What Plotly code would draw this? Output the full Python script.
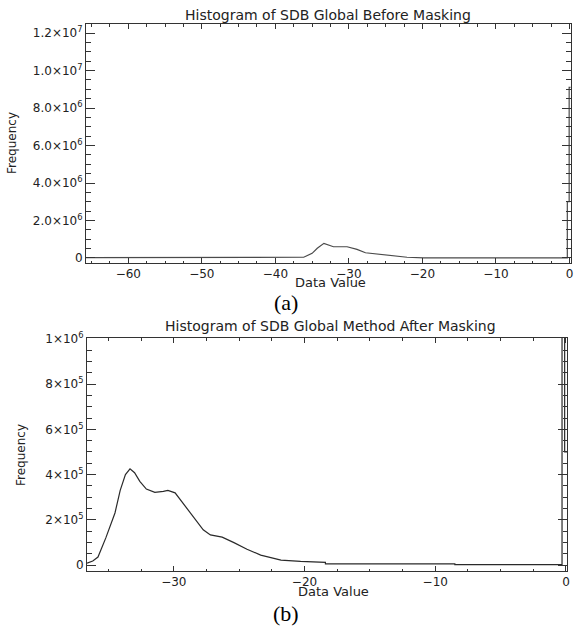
import plotly.graph_objects as go

# ---------------- data ----------------
# (a) Histogram of SDB Global Before Masking
before_x = [-65.75, -37.3, -36.15, -35.0, -34.3, -33.4, -32.75, -32.1, -30.25, -28.9,
            -27.75, -26.2, -24.35, -22.1, -19.8, -4.2, -4.2, -0.3, -0.3, -0.05, -0.05, 0.16]
before_y = [1.5e4, 1.5e4, 4e4, 2.5e5, 5.2e5, 7.8e5, 6.9e5, 6.0e5, 6.0e5, 4.6e5,
            2.8e5, 2.1e5, 1.1e5, 4e4, 1e4, 1e4, 2e3, 2e3, 3.0e6, 3.0e6, 9.1e6, 9.1e6]

# (b) Histogram of SDB Global Method After Masking
after_x = [-36.64, -36.2, -35.8, -35.2, -34.5, -34.1, -33.7, -33.35, -33.0, -32.6,
           -32.1, -31.45, -30.8, -30.45, -29.9, -29.3, -28.5, -27.75, -27.2, -26.3,
           -25.4, -24.4, -23.35, -22.35, -21.8, -20.3, -18.4, -18.4, -8.5, -8.5,
           -0.3, -0.3, -0.1, -0.1, 0.08]
after_y = [8e3, 1.8e4, 3.5e4, 1.2e5, 2.3e5, 3.3e5, 4.0e5, 4.25e5, 4.08e5, 3.7e5,
           3.36e5, 3.21e5, 3.26e5, 3.3e5, 3.19e5, 2.74e5, 2.15e5, 1.56e5, 1.33e5, 1.23e5,
           9.9e4, 7.0e4, 4.4e4, 2.8e4, 2.2e4, 1.6e4, 1.2e4, 5e3, 5e3, 1.5e3,
           1.5e3, 1.3e6, 1.3e6, 5.0e5, 5.0e5]

x_ticks_a = [-60, -50, -40, -30, -20, -10, 0]
x_text_a = ["\u221260", "\u221250", "\u221240", "\u221230", "\u221220", "\u221210", "0"]
y_ticks_a = [0, 2e6, 4e6, 6e6, 8e6, 1e7, 1.2e7]
y_text_a = ["0", "2.0\u00d710<sup>6</sup>", "4.0\u00d710<sup>6</sup>", "6.0\u00d710<sup>6</sup>",
            "8.0\u00d710<sup>6</sup>", "1.0\u00d710<sup>7</sup>", "1.2\u00d710<sup>7</sup>"]

x_ticks_b = [-30, -20, -10, 0]
x_text_b = ["\u221230", "\u221220", "\u221210", "0"]
y_ticks_b = [0, 2e5, 4e5, 6e5, 8e5, 1e6]
y_text_b = ["0", "2\u00d710<sup>5</sup>", "4\u00d710<sup>5</sup>", "6\u00d710<sup>5</sup>",
            "8\u00d710<sup>5</sup>", "1\u00d710<sup>6</sup>"]

title_a = "Histogram of SDB Global Before Masking"
title_b = "Histogram of SDB Global Method After Masking"
x_title = "Data Value"
y_title = "Frequency"

# ---------------- figure ----------------
W, H = 575, 628
def px(x):
    return x / W
def py(y):
    return 1 - y / H

AX = "#333333"
FONT = "DejaVu Sans"

fig = go.Figure()
fig.add_trace(go.Scatter(x=before_x, y=before_y, mode="lines",
                         line=dict(color="#4a4a4a", width=1.2), xaxis="x", yaxis="y",
                         showlegend=False, hoverinfo="skip"))
fig.add_trace(go.Scatter(x=after_x, y=after_y, mode="lines",
                         line=dict(color="#2a2a2a", width=1.2), xaxis="x2", yaxis="y2",
                         showlegend=False, hoverinfo="skip"))

def common(ticklen, mtick0, mdt):
    return dict(tickmode="array", ticks="inside", ticklen=ticklen,
                tickwidth=1, tickcolor=AX, showline=True, linecolor=AX, linewidth=1,
                mirror="ticks", showgrid=False, zeroline=False, automargin=False,
                ticklabeloverflow="allow",
                tickfont=dict(family=FONT, size=12, color="#222"),
                minor=dict(tickmode="linear", tick0=mtick0, dtick=mdt, ticks="inside",
                           ticklen=ticklen / 2, tickcolor=AX, tickwidth=1, showgrid=False))

def xaxis(domain, rng, vals, text, anchor, ticklen):
    d = common(ticklen, 0, 2.5)
    d.update(domain=domain, range=rng, anchor=anchor, tickvals=vals, ticktext=text)
    return d

def yaxis(domain, rng, vals, text, anchor, ticklen, mdt):
    d = common(ticklen, 0, mdt)
    d.update(domain=domain, range=rng, anchor=anchor, tickvals=vals, ticktext=text)
    return d

fig.update_layout(
    width=W, height=H, margin=dict(l=0, r=0, t=0, b=0, autoexpand=False),
    paper_bgcolor="white", plot_bgcolor="white",
    xaxis=xaxis([px(86), px(570.7)], [-65.75, 0.16], x_ticks_a, x_text_a, "y", 5),
    yaxis=yaxis([py(263), py(24)], [-2.67e5, 1.248e7], y_ticks_a, y_text_a, "x", 9, 5e5),
    xaxis2=xaxis([px(87), px(567)], [-36.64, 0.08], x_ticks_b, x_text_b, "y2", 5),
    yaxis2=yaxis([py(571), py(338)], [-2.65e4, 1.004e6], y_ticks_b, y_text_b, "x2", 9, 5e4),
)

def ann(text, x, y, size=12, family=FONT, angle=0, color="#222"):
    fig.add_annotation(text=text, x=px(x), y=py(y), xref="paper", yref="paper",
                       xanchor="center", yanchor="middle", showarrow=False,
                       textangle=angle, font=dict(family=family, size=size, color=color))

ann(title_a, 328, 15, size=14)
ann(title_b, 330, 326, size=14)
ann(x_title, 330, 282, size=13)
ann(x_title, 333, 591, size=13)
ann(y_title, 12, 143, angle=-90)
ann(y_title, 21, 455, angle=-90)
ann("(a)", 286, 302, size=22, family="Liberation Serif", color="#000")
ann("(b)", 286, 613, size=22, family="Liberation Serif", color="#000")

fig.write_html(
    "out.html",
    config={"displayModeBar": False},
    post_script="document.documentElement.style.margin='0';"
                "document.body.style.margin='0';"
                "document.body.style.overflow='hidden';",
)
